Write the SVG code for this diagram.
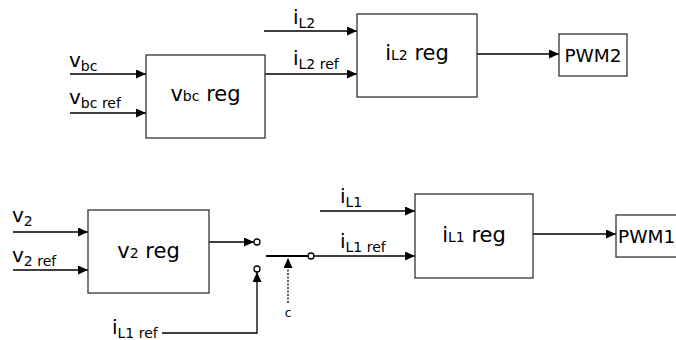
<svg xmlns="http://www.w3.org/2000/svg" width="676" height="340" viewBox="0 0 676 340">
<defs>
<style>
.box{fill:#fff;stroke:#333;stroke-width:1.3}
.ln{fill:none;stroke:#000;stroke-width:1.3}
.t{font-family:"DejaVu Sans",sans-serif;fill:#000}
.big{font-size:21px}
.sm{font-size:14px}
.lab{font-size:20px}
.sub{font-size:14px}
.pwm{font-size:18.5px}
</style>
<marker id="ah" markerWidth="11" markerHeight="9" refX="10" refY="4.5" orient="auto" markerUnits="userSpaceOnUse">
<path d="M0,0 L10,4.5 L0,9 Z" fill="#000"/>
</marker>
</defs>
<rect width="676" height="340" fill="#fff"/>
<g id="connectors">
<line class="ln" x1="70" y1="74" x2="146" y2="74" marker-end="url(#ah)"/>
<line class="ln" x1="70" y1="113" x2="146" y2="113" marker-end="url(#ah)"/>
<line class="ln" x1="264" y1="31" x2="357" y2="31" marker-end="url(#ah)"/>
<line class="ln" x1="265" y1="74" x2="357" y2="74" marker-end="url(#ah)"/>
<line class="ln" x1="477" y1="54" x2="559" y2="54" marker-end="url(#ah)"/>
<line class="ln" x1="13" y1="232" x2="88" y2="232" marker-end="url(#ah)"/>
<line class="ln" x1="13" y1="270" x2="88" y2="270" marker-end="url(#ah)"/>
<line class="ln" x1="320" y1="211" x2="415" y2="211" marker-end="url(#ah)"/>
<line class="ln" x1="314" y1="256" x2="415" y2="256" marker-end="url(#ah)"/>
<line class="ln" x1="533" y1="234" x2="616" y2="234" marker-end="url(#ah)"/>
<line class="ln" x1="209" y1="242" x2="254" y2="242" marker-end="url(#ah)"/>
<circle class="ln" cx="257" cy="242" r="3" fill="#fff" stroke-width="1.6"/>
<circle class="ln" cx="257" cy="269" r="3" fill="#fff" stroke-width="1.6"/>
<polyline class="ln" points="162,333 257,333 257,272" marker-end="url(#ah)"/>
<line x1="266" y1="256" x2="308" y2="256" stroke="#000" stroke-width="2"/>
<circle class="ln" cx="311" cy="256" r="3" fill="#fff"/>
<line x1="288" y1="303" x2="288" y2="258" stroke="#000" stroke-width="1.3" stroke-dasharray="2,1.5" marker-end="url(#ah)"/>
</g>
<g id="vbc_reg">
<rect class="box" x="146" y="55" width="119" height="83"/>
<text class="t big" x="205.5" y="101" text-anchor="middle">v<tspan class="sm">bc</tspan> reg</text>
</g>
<g id="iL2_reg">
<rect class="box" x="357" y="14" width="120" height="83"/>
<text class="t big" x="417" y="60" text-anchor="middle">i<tspan class="sm">L2</tspan> reg</text>
</g>
<g id="pwm2">
<rect class="box" x="559" y="34" width="68" height="42"/>
<text class="t pwm" x="593" y="62" text-anchor="middle">PWM2</text>
</g>
<g id="v2_reg">
<rect class="box" x="88" y="210" width="121" height="83"/>
<text class="t big" x="148.5" y="258" text-anchor="middle">v<tspan class="sm">2</tspan> reg</text>
</g>
<g id="iL1_reg">
<rect class="box" x="415" y="194" width="118" height="84"/>
<text class="t big" x="474" y="242" text-anchor="middle">i<tspan class="sm">L1</tspan> reg</text>
</g>
<g id="pwm1">
<rect class="box" x="616" y="215" width="68" height="42"/>
<text class="t pwm" x="618" y="243">PWM1</text>
</g>
<g id="labels">
<text class="t lab" x="69" y="67">v<tspan class="sub" dy="3.5">bc</tspan></text>
<text class="t lab" x="69" y="104">v<tspan class="sub" dy="3.5">bc ref</tspan></text>
<text class="t lab" x="293" y="24">i<tspan class="sub" dy="3.5">L2</tspan></text>
<text class="t lab" x="293" y="65">i<tspan class="sub" dy="3.5">L2 ref</tspan></text>
<text class="t lab" x="12" y="222">v<tspan class="sub" dy="3.5">2</tspan></text>
<text class="t lab" x="12" y="262">v<tspan class="sub" dy="3.5">2 ref</tspan></text>
<text class="t lab" x="340" y="203">i<tspan class="sub" dy="3.5">L1</tspan></text>
<text class="t lab" x="340" y="248">i<tspan class="sub" dy="3.5">L1 ref</tspan></text>
<text class="t lab" x="112" y="334">i<tspan class="sub" dy="3.5">L1 ref</tspan></text>
<text class="t" x="288" y="317" font-size="12" text-anchor="middle">c</text>
</g>
</svg>
